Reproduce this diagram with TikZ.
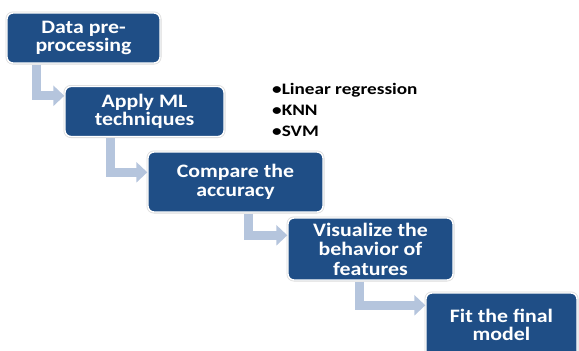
\documentclass[tikz,border=0pt]{standalone}
\usepackage{fontspec}
\newfontfamily\boxfont[FakeStretch=1.15]{Carlito}
\newfontfamily\listfont[FakeStretch=1.2]{Carlito}
\usetikzlibrary{arrows.meta,positioning}
\definecolor{stageblue}{HTML}{1F4E86}
\definecolor{jumpblue}{HTML}{B5C5DD}

\begin{document}
\begin{tikzpicture}[x=1pt,y=-1pt]

\tikzset{inner sep=0pt,
stage/.style={fill=stageblue,draw=white,line width=1.4pt,rounded corners=6pt,
  preaction={draw=black!14,line width=3pt},
  text=white,align=center,font=\boxfont\bfseries\fontsize{19}{18.5}\selectfont},
bendjump/.style={-{Triangle[length=11pt,width=20pt]},draw=jumpblue,line width=9pt,shorten <=1pt}}

\useasboundingbox (0,0) rectangle (579,351);

% Stages
\node[stage,minimum width=153pt,minimum height=50pt] (prep) at (83.5,38) {Data pre-\\processing};
\node[stage,minimum width=159pt,minimum height=50pt] (apply) at (144.5,111.5) {Apply ML\\techniques};
\node[stage,minimum width=175pt,minimum height=60pt] (compare) at (235.5,182) {Compare the\\accuracy};
\node[stage,minimum width=165pt,minimum height=62pt,font=\boxfont\bfseries\fontsize{19}{19.5}\selectfont] (visual) at (370.5,249) {Visualize the\\behavior of\\features};
\node[stage,minimum width=151pt,minimum height=64pt] (fit) at (501.5,325) {Fit the final\\model};

% Methods list
\node[anchor=north west,align=left,font=\listfont\bfseries\fontsize{16}{21}\selectfont] (methods) at (272,83) {•Linear regression\\•KNN\\•SVM};

% Arrows
\draw[bendjump] ([xshift=30pt]prep.south west) |- ([yshift=-10pt]apply.north west);
\draw[bendjump] ([xshift=46pt]apply.south west) |- ([yshift=-21pt]compare.north west);
\draw[bendjump] ([xshift=101pt]compare.south west) |- ([yshift=-18pt]visual.north west);
\draw[bendjump] ([xshift=72pt]visual.south west) |- ([yshift=-13pt]fit.north west);

\end{tikzpicture}
\end{document}
